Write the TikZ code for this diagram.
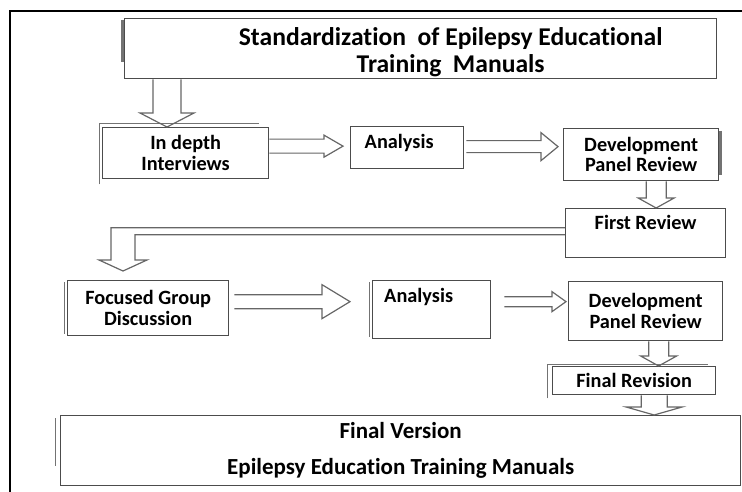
\documentclass[tikz,border=0pt]{standalone}
\usepackage{fontspec}
\setmainfont{Carlito}[Ligatures=NoCommon]
\usetikzlibrary{calc}

\tikzset{
  box/.style={draw=black!70, line width=1.3pt, anchor=north west, align=center,
              inner sep=2pt, font=\bfseries\fontsize{20.3}{20.5}\selectfont},
  blk/.style={draw=black!60, line width=1.2pt, line join=miter},
  ghost/.style={draw=black!55, line width=1pt}
}

% hollow block arrows: from, to, half shaft, half head, head length
\newcommand{\harrow}[5]{%
  \draw[blk] let \p1=(#1), \p2=(#2) in
    (\x1,\y1+#3) -- (\x2-#5,\y1+#3) -- (\x2-#5,\y1+#4) -- (\x2,\y1)
    -- (\x2-#5,\y1-#4) -- (\x2-#5,\y1-#3) -- (\x1,\y1-#3);}
\newcommand{\varrow}[5]{%
  \draw[blk] let \p1=(#1), \p2=(#2) in
    (\x1-#3,\y1) -- (\x1-#3,\y2+#5) -- (\x1-#4,\y2+#5) -- (\x1,\y2)
    -- (\x1+#4,\y2+#5) -- (\x1+#3,\y2+#5) -- (\x1+#3,\y1);}

\begin{document}
\begin{tikzpicture}[x=1pt, y=-1pt]
  \useasboundingbox (0,0) rectangle (742,492);
  \draw[line width=2.5pt] (10,492) -- (10,11) -- (742,11);

  % boxes
  \node[box, minimum width=592pt, minimum height=60pt, text height=38pt, text depth=15pt,
        font=\bfseries\fontsize{25.6}{27}\selectfont] (title) at (124,18)
    {\hspace*{60pt}\begin{tabular}{@{}c@{}}Standardization\ \ of Epilepsy Educational\\Training\ \ Manuals\end{tabular}};
  \node[box, minimum width=166pt, minimum height=51pt] (idi) at (102,127) {In depth\\Interviews};
  \node[box, minimum width=113pt, minimum height=42pt, text depth=12pt] (ana1) at (350,126) {Analysis\hspace*{16pt}};
  \node[box, minimum width=155pt, minimum height=52pt] (dev1) at (563,128) {Development\\Panel Review};
  \node[box, minimum width=160pt, minimum height=49pt, text depth=22pt] (first) at (565,208) {First Review};
  \node[box, minimum width=161pt, minimum height=55pt] (fgd) at (67,280) {Focused Group\\Discussion};
  \node[box, minimum width=118pt, minimum height=58pt, text depth=28pt] (ana2) at (372,280) {Analysis\hspace*{26pt}};
  \node[box, minimum width=154pt, minimum height=59pt] (dev2) at (568,281) {Development\\Panel Review};
  \node[box, minimum width=163pt, minimum height=28pt] (finrev) at (552,366) {Final Revision};
  \node[box, minimum width=680pt, minimum height=70pt,
        font=\bfseries\fontsize{23}{25}\selectfont] (final) at (60,415) {Final Version\\[11pt]Epilepsy Education Training Manuals};

  % doubled edges of the scan
  \draw[ghost, line width=2.5pt] ([xshift=-1.5pt, yshift=-2pt]title.north west) -- ++(0,42);
  \draw[ghost] ([shift={(-3,5)}]idi.south west) |- ([shift={(-10,-3)}]idi.north east);
  \foreach \n in {fgd, ana2}
    \draw[ghost] ([xshift=-3pt, yshift=-2pt]\n.north west) -- ([xshift=-3pt, yshift=2pt]\n.south west);
  \draw[ghost] ([shift={(-5,3)}]finrev.south west) |- ([shift={(-8,-2)}]finrev.north east);
  \draw[ghost] ([xshift=-5pt, yshift=-3pt]final.north west) -- ++(0,48);
  \draw[ghost, line width=2.5pt] ([xshift=1pt, yshift=-3pt]dev1.north east) -- ++(0,44);

  % arrows
  \varrow{$(title.south west)+(43,0)$}{idi.north}{14pt}{27pt}{14pt}
  \harrow{$(idi.east)+(0,-7)$}{$(ana1.west)+(-7,0)$}{7pt}{11pt}{19pt}
  \harrow{$(ana1.east)+(2,-1)$}{$(dev1.west)+(-5,0)$}{6pt}{14pt}{17pt}
  \varrow{$(dev1.south)+(15,0)$}{first.north}{10pt}{18pt}{10pt}
  \draw[blk] let \p1=(first.west), \p2=(fgd.north west) in
    (\x1,\y1+5.5pt) -- (\x2+44pt,\y1+5.5pt) -- (\x2+44pt,\y2+20pt) -- (\x2+32pt,\y2+20pt)
    -- (\x2+56pt,\y2+9pt) -- (\x2+80pt,\y2+20pt) -- (\x2+68pt,\y2+20pt)
    -- (\x2+68pt,\y1-1.5pt) -- (\x1,\y1-1.5pt);
  \harrow{$(fgd.east)+(5,-6.5)$}{$(ana2.west)+(-22,0)$}{7pt}{17pt}{28pt}
  \harrow{$(ana2.east)+(13,-8)$}{$(dev2.west)+(-2,0)$}{5pt}{10pt}{14pt}
  \varrow{$(dev2.south)+(13,0)$}{finrev.north}{10pt}{18pt}{10pt}
  \varrow{$(finrev.south)+(20,0)$}{final.north}{13pt}{28pt}{8pt}
\end{tikzpicture}
\end{document}
